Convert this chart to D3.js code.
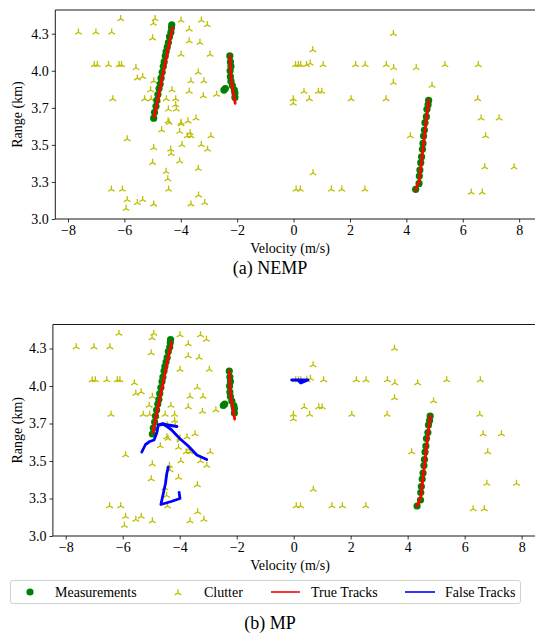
<!DOCTYPE html>
<html>
<head>
<meta charset="utf-8">
<script src="https://cdn.jsdelivr.net/npm/d3@7"></script>
<style>
  body { margin: 0; background: #fff; }
  svg { font-family: "Liberation Serif", "DejaVu Serif", serif; }
</style>
</head>
<body>
<svg id="chart" width="535" height="635"></svg>
<script>
// clutter detections (velocity m/s, range km)
var clutterV = [-7.63,-7.01,-6.45,-6.13,-4.91,-4.97,-3.99,-3.27,-3.06,-3.70,-5.00,-3.70,-3.32,-3.99,-2.96,
  -7.07,-6.96,-6.56,-6.19,-6.10,-5.59,-5.54,-5.35,-3.38,-4.96,-3.64,-3.18,-5.07,-4.31,-6.41,-5.28,-5.05,
  -4.51,-4.18,-4.83,-4.18,-4.16,-4.44,-3.70,-3.20,-2.73,-5.90,-4.68,-4.45,-4.41,-3.99,-3.99,-3.74,-3.46,
  -4.04,-3.67,-3.64,-3.77,-2.93,-4.96,-3.96,-3.27,-4.36,-4.34,-3.05,-5.00,-4.04,-4.52,-4.46,-3.38,-6.46,
  -6.07,-4.43,-5.90,-5.94,-5.54,-5.35,-4.96,-3.64,-3.37,-3.15,
  3.54,0.68,0.07,0.17,0.25,0.46,0.59,1.05,2.20,2.54,3.29,3.55,4.35,5.37,6.55,3.54,4.91,0.37,0.88,1.00,
  -0.01,-0.01,0.56,2.04,3.28,6.53,6.65,7.29,4.14,6.81,0.69,6.78,7.82,0.09,0.24,1.34,1.71,2.53,6.30,6.69];
var clutterR = [4.26,4.26,4.26,4.35,4.35,4.32,4.34,4.34,4.31,4.28,4.22,4.20,4.19,4.11,4.11,
  4.04,4.04,4.04,4.04,4.04,4.02,3.95,3.96,3.99,3.93,3.93,3.93,3.87,3.87,3.81,3.81,3.81,
  3.81,3.81,3.80,3.77,3.74,3.74,3.86,3.83,3.84,3.54,3.60,3.66,3.65,3.65,3.64,3.66,3.68,
  3.59,3.58,3.56,3.56,3.56,3.48,3.50,3.50,3.47,3.44,3.47,3.38,3.39,3.32,3.27,3.34,3.20,
  3.20,3.20,3.13,3.07,3.11,3.13,3.10,3.10,3.16,3.11,
  4.25,4.14,4.04,4.04,4.04,4.04,4.05,4.04,4.04,4.04,4.04,4.02,4.02,4.04,4.04,3.92,3.90,3.86,3.86,3.86,
  3.81,3.78,3.81,3.81,3.81,3.81,3.68,3.68,3.56,3.56,3.31,3.35,3.35,3.20,3.20,3.20,3.20,3.20,3.18,3.18];

// measurements
var measV = [-4.96,-4.93,-4.88,-4.85,-4.81,-4.77,-4.73,-4.70,-4.66,-4.62,-4.59,-4.55,-4.52,-4.48,-4.44,-4.40,-4.35,-4.33,-4.32,
  -2.26,-2.24,-2.22,-2.25,-2.24,-2.22,-2.17,-2.10,-2.08,-2.08,-2.47,-2.42,
  4.33,4.45,4.46,4.48,4.51,4.54,4.57,4.59,4.61,4.64,4.66,4.71,4.73,4.77,4.79];
var measR = [3.68,3.72,3.76,3.80,3.84,3.88,3.91,3.95,3.99,4.03,4.06,4.10,4.13,4.16,4.19,4.23,4.26,4.29,4.31,
  4.10,4.06,4.03,4.00,3.96,3.93,3.90,3.87,3.85,3.82,3.87,3.88,
  3.20,3.24,3.29,3.33,3.38,3.42,3.47,3.51,3.56,3.60,3.65,3.69,3.74,3.77,3.80];

// true tracks
var trueTracks = [
  [[-4.94,3.69],[-4.36,4.23],[-4.30,4.27],[-4.29,4.29]],
  [[-2.26,4.10],[-2.22,3.95],[-2.07,3.78]],
  [[4.33,3.20],[4.46,3.26],[4.79,3.80]]
];

// false tracks (MP only)
var falseTracks = [
  [[-5.33,3.56],[-5.20,3.61],[-5.05,3.63],[-4.90,3.64],[-4.80,3.69],[-4.75,3.74],[-4.60,3.75],[-4.40,3.74],[-4.10,3.73]],
  [[-4.75,3.74],[-4.55,3.745],[-4.30,3.71],[-4.00,3.65],[-3.70,3.60],[-3.40,3.54],[-3.05,3.51]],
  [[-4.40,3.46],[-4.45,3.42],[-4.50,3.35],[-4.66,3.21],[-4.30,3.23],[-3.99,3.25],[-4.02,3.29]],
  [[-0.07,4.04],[0.20,4.04],[0.50,4.04],[0.25,4.02],[0.15,4.04]]
];

var xTicks = [-8,-6,-4,-2,0,2,4,6,8];
var yTicks = [3.0,3.25,3.5,3.75,4.0,4.25];
var yTickLabels = ["3.0","3.3","3.5","3.7","4.0","4.3"];

var svg = d3.select("#chart");
var fmtX = function(d){ return d < 0 ? "\u2212" + Math.abs(d) : String(d); };
var triUp = function(r){
  var a = 0.866 * r, b = 0.5 * r;
  return "M0,0L0," + (-r) + "M0,0L" + (-a) + "," + b + "M0,0L" + a + "," + b;
};

function drawPanel(p) {
  var x = d3.scaleLinear().domain([-8.45, 8.75]).range([p.left, p.right]);
  var y = d3.scaleLinear().domain([3.0, 4.41]).range([p.bottom, p.top]);
  var g = svg.append("g");

  var clip = "clip" + p.id;
  g.append("clipPath").attr("id", clip).append("rect")
    .attr("x", p.left).attr("y", p.top).attr("width", p.right - p.left).attr("height", p.bottom - p.top);
  var plot = g.append("g").attr("clip-path", "url(#" + clip + ")");

  plot.selectAll(".clutter").data(d3.range(clutterV.length)).join("path")
    .attr("class", "clutter")
    .attr("transform", function(i){ return "translate(" + x(clutterV[i]) + "," + y(clutterR[i]) + ")"; })
    .attr("d", triUp(3.8))
    .attr("stroke", "#bfbf00").attr("stroke-width", 1.3).attr("fill", "none");

  plot.selectAll(".meas").data(d3.range(measV.length)).join("circle")
    .attr("class", "meas")
    .attr("cx", function(i){ return x(measV[i]); })
    .attr("cy", function(i){ return y(measR[i]); })
    .attr("r", 3.6)
    .attr("fill", "#008000");

  var line = d3.line().x(function(d){ return x(d[0]); }).y(function(d){ return y(d[1]); });

  plot.selectAll(".truetrk").data(trueTracks).join("path")
    .attr("class", "truetrk")
    .attr("d", line)
    .attr("fill", "none").attr("stroke", "#ff0000").attr("stroke-width", 2.8)
    .attr("stroke-linejoin", "round").attr("stroke-linecap", "round");

  if (p.showFalse) {
    plot.selectAll(".falsetrk").data(falseTracks).join("path")
      .attr("class", "falsetrk")
      .attr("d", line)
      .attr("fill", "none").attr("stroke", "#0000ff").attr("stroke-width", 2.8)
      .attr("stroke-linejoin", "round").attr("stroke-linecap", "round");
  }

  // axes
  var xAxis = g.append("g").attr("transform", "translate(0," + p.bottom + ")")
    .call(d3.axisBottom(x).tickValues(xTicks).tickFormat(fmtX).tickSize(3.5).tickPadding(3));
  var yAxis = g.append("g").attr("transform", "translate(" + p.left + ",0)")
    .call(d3.axisLeft(y).tickValues(yTicks).tickFormat(function(d, i){ return yTickLabels[i]; }).tickSize(3.5).tickPadding(3));
  [xAxis, yAxis].forEach(function(a){
    a.selectAll("text").attr("font-size", 14).attr("font-family", "Liberation Serif").attr("fill", "#000");
    a.selectAll("line").attr("stroke", "#000").attr("stroke-width", 0.8);
    a.select(".domain").remove();
  });
  g.append("line").attr("x1", p.left).attr("x2", p.right).attr("y1", p.top).attr("y2", p.top)
    .attr("stroke", "#000").attr("stroke-width", 0.9);
  g.append("line").attr("x1", p.left).attr("x2", p.right).attr("y1", p.bottom).attr("y2", p.bottom)
    .attr("stroke", "#000").attr("stroke-width", 0.9);
  g.append("line").attr("x1", p.left).attr("x2", p.left).attr("y1", p.top).attr("y2", p.bottom)
    .attr("stroke", "#000").attr("stroke-width", 0.9);

  g.append("text").attr("x", 290).attr("y", p.bottom + 34)
    .attr("text-anchor", "middle").attr("font-size", 14).text("Velocity (m/s)");
  g.append("text")
    .attr("transform", "translate(22," + ((p.top + p.bottom) / 2) + ") rotate(-90)")
    .attr("text-anchor", "middle").attr("font-size", 14).text("Range (km)");
  g.append("text").attr("x", 270).attr("y", p.caption)
    .attr("text-anchor", "middle").attr("font-size", 18).text(p.label);
}

drawPanel({id: "a", left: 55.3, right: 540.3, top: 10, bottom: 219, caption: 274, label: "(a) NEMP", showFalse: false});
drawPanel({id: "b", left: 52.9, right: 543, top: 324.5, bottom: 536, caption: 629, label: "(b) MP", showFalse: true});

// legend
var legend = svg.append("g").attr("class", "legend");
legend.append("rect").attr("x", 10.5).attr("y", 580.5).attr("width", 510).attr("height", 23)
  .attr("rx", 2.5).attr("fill", "#fff").attr("stroke", "#cccccc").attr("stroke-width", 0.9);
var ly = 592;
legend.append("circle").attr("cx", 30).attr("cy", ly).attr("r", 3.6).attr("fill", "#008000");
legend.append("path").attr("transform", "translate(178," + (ly + 1) + ")").attr("d", triUp(3.8))
  .attr("stroke", "#bfbf00").attr("stroke-width", 1.3).attr("fill", "none");
legend.append("line").attr("x1", 271).attr("x2", 300).attr("y1", ly).attr("y2", ly)
  .attr("stroke", "#ff0000").attr("stroke-width", 1.6);
legend.append("line").attr("x1", 405).attr("x2", 435).attr("y1", ly).attr("y2", ly)
  .attr("stroke", "#0000ff").attr("stroke-width", 1.6);
var legendText = [["Measurements", 55], ["Clutter", 204], ["True Tracks", 311], ["False Tracks", 445]];
legend.selectAll(".ltext").data(legendText).join("text")
  .attr("class", "ltext")
  .attr("x", function(d){ return d[1]; }).attr("y", ly + 5)
  .attr("font-size", 14).text(function(d){ return d[0]; });
</script>
</body>
</html>
